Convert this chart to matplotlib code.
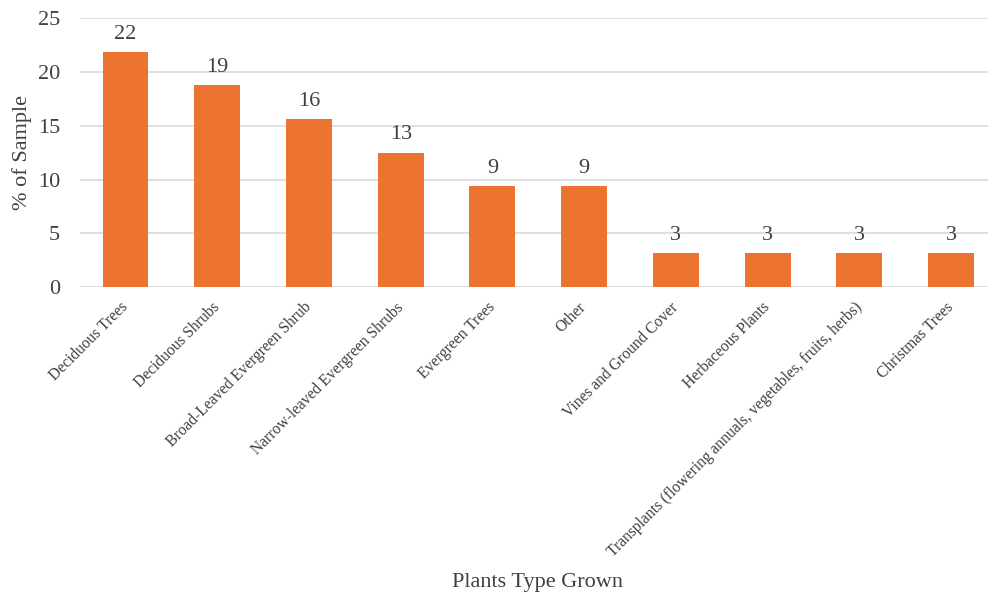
import matplotlib.pyplot as plt

plt.rcParams['font.family'] = ['Liberation Serif', 'DejaVu Serif']

plant_types = ['Deciduous Trees', 'Deciduous Shrubs', 'Broad-Leaved Evergreen Shrub',
               'Narrow-leaved Evergreen Shrubs', 'Evergreen Trees', 'Other',
               'Vines and Ground Cover', 'Herbaceous Plants',
               'Transplants (flowering annuals, vegetables, fruits, herbs)', 'Christmas Trees']
pct_sample = [21.875, 18.75, 15.625, 12.5, 9.375, 9.375, 3.125, 3.125, 3.125, 3.125]

text_col = '#404040'

fig = plt.figure(figsize=(9.88, 5.96), dpi=100)
ax = fig.add_axes([79.6 / 988, 1 - 287 / 596, (997 - 79.6) / 988, (287 - 18.3) / 596])

x = range(len(plant_types))
bars = ax.bar(x, pct_sample, width=0.5, color='#EC7330', zorder=3)

# round half up so 12.5 shows as 13
for b, v in zip(bars, pct_sample):
    ax.annotate(str(int(v + 0.5)), (b.get_x() + b.get_width() / 2, v), xytext=(0, 6),
                textcoords='offset points', ha='center', va='bottom',
                fontsize=16, color=text_col)

ax.set_ylim(0, 25)
ax.set_xlim(-0.5, len(plant_types) - 0.5)
ax.set_yticks(range(0, 26, 5))
ax.yaxis.grid(True, color='#d9d9d9', linewidth=1.2, zorder=0)
for s in ax.spines.values():
    s.set_visible(False)
ax.tick_params(axis='y', length=0, labelsize=16, labelcolor=text_col, pad=14)
ax.tick_params(axis='x', length=0, pad=13)

ax.set_xticks(list(x))
ax.set_xticklabels(plant_types, rotation=45, ha='right', va='center',
                   rotation_mode='anchor', fontsize=11.2, color=text_col)

ax.set_ylabel('% of Sample', fontsize=16, color=text_col, labelpad=4)
fig.text(538 / 988, 1 - 583 / 596, 'Plants Type Grown', ha='center', va='center',
         fontsize=16, color=text_col)

fig.savefig('out.png', dpi=100)
